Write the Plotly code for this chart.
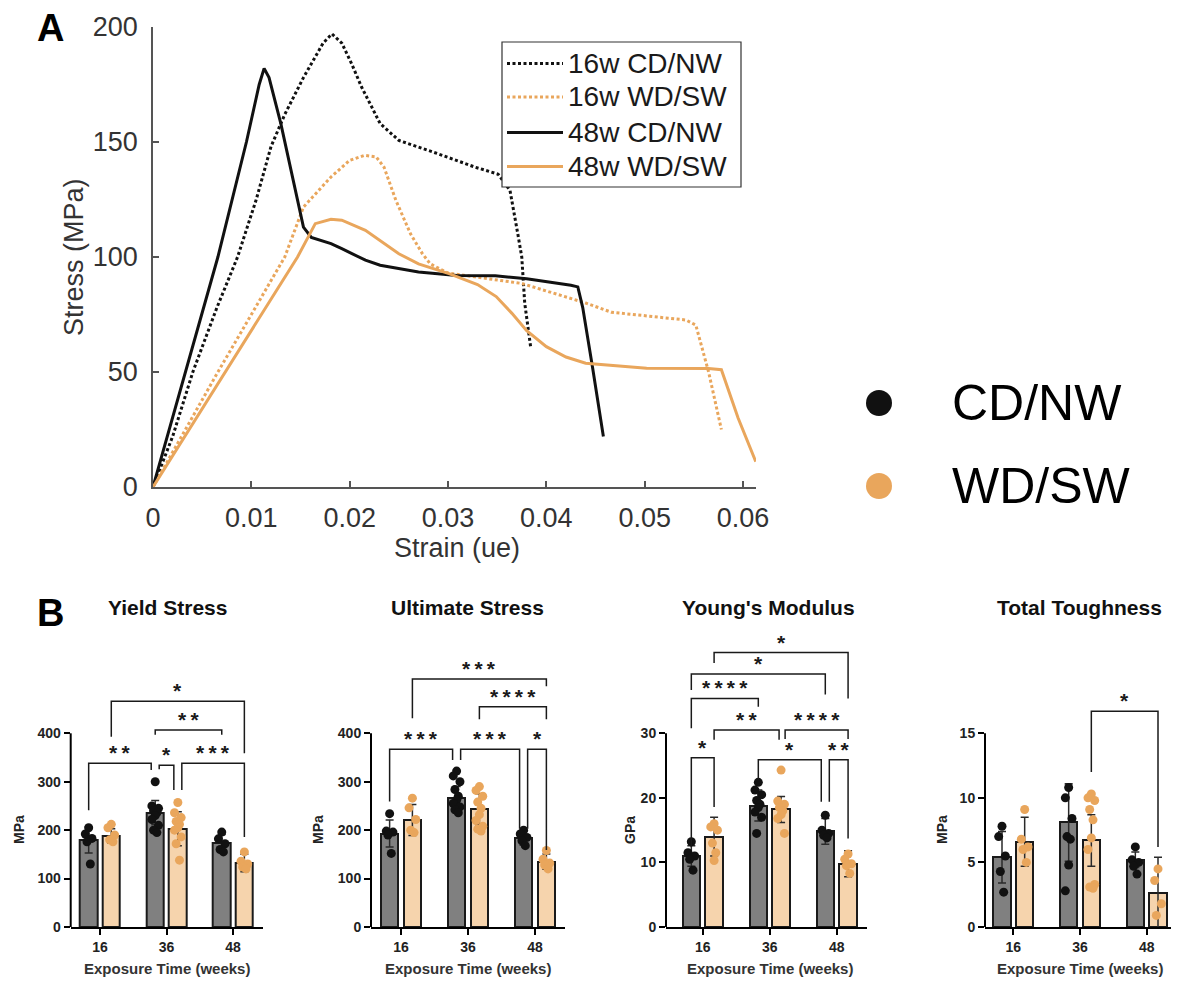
import plotly.graph_objects as go

W, H = 1179, 981
PAGE_OFF = 8  # browser body margin


def fx(px):
    return (px - PAGE_OFF) / W


def fy(py):
    return 1 - (py - PAGE_OFF) / H


# ---------------- Panel A : stress-strain curves ----------------
strain_16_cd = [0, 0.002, 0.00405, 0.0065, 0.0086, 0.0105, 0.0120, 0.0134, 0.0153, 0.0173, 0.0182,
                0.0192, 0.0202, 0.0212, 0.0231, 0.0250, 0.0289, 0.0328, 0.0351, 0.0363, 0.0371,
                0.0375, 0.0378, 0.0384]
stress_16_cd = [0, 22, 50, 78, 100, 125, 148, 162, 178, 193, 197, 193, 184, 174, 158, 150.7, 145,
                139, 136, 129, 110, 100, 80, 61]

strain_16_wd = [0, 0.0066, 0.0134, 0.0153, 0.0181, 0.0200, 0.0215, 0.0227, 0.0235, 0.0247, 0.0262,
                0.0274, 0.0282, 0.0300, 0.0375, 0.0440, 0.0466, 0.0542, 0.0552, 0.0565, 0.0578]
stress_16_wd = [0, 50, 100, 121.7, 134.8, 142, 144.2, 143.5, 139, 124.6, 110, 101.4, 97, 93, 88.5,
                80, 76, 72.6, 70.4, 50, 25]

strain_48_cd = [0, 0.0033, 0.0066, 0.0095, 0.0108, 0.0113, 0.0118, 0.0130, 0.0144, 0.0153, 0.0161,
                0.0181, 0.0192, 0.0216, 0.0231, 0.0270, 0.0309, 0.0348, 0.0380, 0.0405, 0.0425,
                0.0432, 0.0437, 0.0447, 0.0458]
stress_48_cd = [0, 50, 100, 150, 175, 182, 178, 158, 130, 113, 108.5, 105.8, 103.6, 98.6, 96.4,
                93.5, 92, 91.8, 90.5, 89, 87.7, 87, 78, 52, 22]

strain_48_wd = [0, 0.00735, 0.0147, 0.0165, 0.0181, 0.0192, 0.0216, 0.0250, 0.0270, 0.0301, 0.0330,
                0.0349, 0.0365, 0.0380, 0.0400, 0.0420, 0.0440, 0.0502, 0.0565, 0.0578, 0.0595, 0.0613]
stress_48_wd = [0, 50, 100, 114.5, 116.4, 116, 111.6, 101.4, 97, 92.8, 88, 82.8, 75.5, 68, 61,
                56.5, 53.8, 51.6, 51.5, 51, 30, 11]

strain_ticks = [0, 0.01, 0.02, 0.03, 0.04, 0.05, 0.06]
strain_tick_text = ["0", "0.01", "0.02", "0.03", "0.04", "0.05", "0.06"]
stress_ticks = [0, 50, 100, 150, 200]

# ---------------- Panel B : bar charts ----------------
weeks = ["16", "36", "48"]

yield_cd_mean = [180, 236, 174]
yield_cd_sd = [27, 25, 17]
yield_wd_mean = [188, 203, 132]
yield_wd_sd = [15, 35, 18]
yield_cd_pts = [[205, 192, 183, 176, 130],
                [300, 250, 245, 240, 236, 230, 222, 210, 200, 195],
                [196, 182, 172, 160, 155]]
yield_wd_pts = [[212, 205, 190, 180, 176],
                [257, 236, 226, 218, 212, 205, 200, 186, 172, 138],
                [155, 136, 130, 124, 120]]

ult_cd_mean = [193, 266, 183]
ult_cd_sd = [28, 24, 14]
ult_wd_mean = [221, 243, 135]
ult_wd_sd = [32, 32, 16]
ult_cd_pts = [[234, 198, 196, 190, 152],
              [322, 312, 300, 284, 270, 262, 255, 248, 242, 236],
              [200, 192, 185, 178, 168]]
ult_wd_pts = [[266, 246, 222, 200, 195],
              [290, 282, 270, 258, 245, 232, 220, 208, 202, 198],
              [158, 140, 132, 128, 120]]

ym_cd_mean = [11.0, 18.8, 14.8]
ym_cd_sd = [1.6, 2.4, 2.0]
ym_wd_mean = [14.0, 18.2, 9.8]
ym_wd_sd = [3.0, 2.0, 2.0]
ym_cd_pts = [[13.2, 11.5, 11.0, 10.5, 8.8],
             [22.4, 21.2, 20.5, 19.6, 19.0, 18.5, 17.8, 17.0, 14.5],
             [17.3, 15.0, 14.5, 14.2, 13.8]]
ym_wd_pts = [[16.0, 15.5, 15.0, 13.0, 11.5, 10.3],
             [24.3, 19.5, 19.0, 18.5, 18.0, 17.4, 16.8, 14.5],
             [11.3, 10.5, 9.8, 9.5, 8.3]]

tough_cd_mean = [5.4, 8.1, 5.2]
tough_cd_sd = [2.0, 3.0, 0.6]
tough_wd_mean = [6.6, 6.7, 2.6]
tough_wd_sd = [1.9, 2.0, 2.8]
tough_cd_pts = [[7.8, 7.0, 5.5, 4.3, 2.7],
                [10.8, 10.0, 8.4, 7.0, 6.8, 4.8, 2.8],
                [6.2, 5.2, 5.0, 4.7, 4.1]]
tough_wd_pts = [[9.1, 6.8, 6.2, 6.0, 5.0],
                [10.3, 10.0, 9.8, 9.1, 8.3, 6.9, 6.0, 3.3, 3.1, 3.0],
                [4.5, 3.6, 1.8, 0.9]]

# significance brackets: (left bar, left nudge, right bar, right nudge, top, left leg end, right leg end, label)
yield_sig = [("16C", 0, "36C", -1, 338, 241, 324, "**"),
             ("36C", 1, "36W", -1, 334, 326, 283, "*"),
             ("36W", 1, "48W", 0, 338, 283, 186, "***"),
             ("36C", 0, "48C", 0, 407, 397, 397, "**"),
             ("16W", 0, "48W", 0, 466, 393, 359, "*")]
ult_sig = [("16C", 0, "36C", -1, 367, 259, 345, "***"),
           ("36C", 1, "48C", -1, 367, 345, 203, "***"),
           ("48C", 1, "48W", 0, 367, 203, 159, "*"),
           ("36W", 0, "48W", 0, 455, 429, 429, "****"),
           ("16W", 0, "48W", 0, 512, 431, 497, "***")]
ym_sig = [("16C", 0, "16W", 0, 26.2, 12.4, 18.6, "*"),
          ("36C", 0, "48C", -1, 25.9, 22.8, 19.4, "*"),
          ("48C", 1, "48W", 0, 25.9, 19.4, 13.7, "**"),
          ("16W", 0, "36W", -0.5, 30.5, 29.0, 29.0, "**"),
          ("36W", 1, "48W", 0, 30.5, 29.1, 29.1, "****"),
          ("16C", 0, "36C", 0, 35.4, 30.8, 34.1, "****"),
          ("16C", 0, "48C", 0, 39.2, 36.7, 36.0, "*"),
          ("16W", 0, "48W", 0, 42.5, 40.9, 35.4, "*")]
tough_sig = [("36W", 0, "48W", 0, 16.7, 12.0, 6.2, "*")]

# ---------------- styles ----------------
BLACK = "#111111"
ORANGE = "#E9A65C"
GREY_BAR = "#808080"
PEACH_BAR = "#F6D4AD"
FONT = "Arial"
BAR_OFF = 0.17
BAR_W = 0.26
NUDGE = 0.06
DOT_SPREAD = [0, -0.05, 0.05, -0.025, 0.025]

fig = go.Figure()

# ---- Panel A traces
curve_specs = [
    ("16w CD/NW", strain_16_cd, stress_16_cd, BLACK, "3px,2.5px"),
    ("16w WD/SW", strain_16_wd, stress_16_wd, ORANGE, "3px,2.5px"),
    ("48w CD/NW", strain_48_cd, stress_48_cd, BLACK, "solid"),
    ("48w WD/SW", strain_48_wd, stress_48_wd, ORANGE, "solid"),
]
for name, xs, ys, col, dash in curve_specs:
    fig.add_trace(go.Scatter(x=xs, y=ys, mode="lines", name=name,
                             line=dict(color=col, width=3, dash=dash),
                             xaxis="x", yaxis="y", showlegend=False))

shapes = []
annotations = []

# legend box for panel A (drawn to match the reference box geometry)
shapes.append(dict(type="rect", xref="paper", yref="paper", x0=fx(502), x1=fx(741), y0=fy(187), y1=fy(42),
                   line=dict(color="#333", width=1.2), fillcolor="white", layer="above"))
for k, (name, xs, ys, col, dash) in enumerate(curve_specs):
    ry = [63.5, 97, 132.5, 166.5][k]
    shapes.append(dict(type="line", xref="paper", yref="paper", x0=fx(507), x1=fx(563), y0=fy(ry), y1=fy(ry),
                       line=dict(color=col, width=3, dash=dash), layer="above"))
    annotations.append(dict(x=fx(566), y=fy(ry), xref="paper", yref="paper", text=name, showarrow=False,
                            xanchor="left", yanchor="middle", font=dict(family=FONT, size=28, color="#1a1a1a")))

# ---- Panel B
panels = [
    dict(title="Yield Stress", unit="MPa", cd=yield_cd_mean, cds=yield_cd_sd, wd=yield_wd_mean,
         wds=yield_wd_sd, cdp=yield_cd_pts, wdp=yield_wd_pts, sig=yield_sig,
         ticks=[0, 100, 200, 300, 400], dom=(70.7, 263), xr=(-0.44, 2.45)),
    dict(title="Ultimate Stress", unit="MPa", cd=ult_cd_mean, cds=ult_cd_sd, wd=ult_wd_mean,
         wds=ult_wd_sd, cdp=ult_cd_pts, wdp=ult_wd_pts, sig=ult_sig,
         ticks=[0, 100, 200, 300, 400], dom=(371, 565), xr=(-0.448, 2.448)),
    dict(title="Young's Modulus", unit="GPa", cd=ym_cd_mean, cds=ym_cd_sd, wd=ym_wd_mean,
         wds=ym_wd_sd, cdp=ym_cd_pts, wdp=ym_wd_pts, sig=ym_sig,
         ticks=[0, 10, 20, 30], dom=(666, 866.7), xr=(-0.548, 2.448)),
    dict(title="Total Toughness", unit="MPa", cd=tough_cd_mean, cds=tough_cd_sd, wd=tough_wd_mean,
         wds=tough_wd_sd, cdp=tough_cd_pts, wdp=tough_wd_pts, sig=tough_sig,
         ticks=[0, 5, 10, 15], dom=(985, 1175), xr=(-0.425, 2.425)),
]
title_x = [167, 467, 768, 1079]
xtitle_x = [167, 468, 770, 1080]
ytitle_x = [19, 318, 630, 942]

Y0_PX, YTOP_TICK_PX, YTOP_PX = 927, 733.3, 640
range_factor = (Y0_PX - YTOP_PX) / (Y0_PX - YTOP_TICK_PX)


def bar_x(key, nudge=0):
    g = weeks.index(key[:2])
    return g + (-BAR_OFF if key[2] == "C" else BAR_OFF) + nudge * NUDGE


for i, p in enumerate(panels):
    n = i + 2
    xa, ya = f"x{n}", f"y{n}"
    xs_cd = [g - BAR_OFF for g in range(3)]
    xs_wd = [g + BAR_OFF for g in range(3)]
    for xs, mean, sd, fill in [(xs_cd, p["cd"], p["cds"], GREY_BAR), (xs_wd, p["wd"], p["wds"], PEACH_BAR)]:
        fig.add_trace(go.Bar(x=xs, y=mean, width=BAR_W,
                             marker=dict(color=fill, line=dict(color="#1a1a1a", width=2)),
                             error_y=dict(type="data", array=sd, visible=True, color="#2a2a2a",
                                          thickness=1.5, width=4),
                             xaxis=xa, yaxis=ya, showlegend=False))
    for xs, pts, col in [(xs_cd, p["cdp"], BLACK), (xs_wd, p["wdp"], ORANGE)]:
        px_list, py_list = [], []
        for g, vals in enumerate(pts):
            for j, v in enumerate(vals):
                px_list.append(xs[g] + DOT_SPREAD[j % len(DOT_SPREAD)])
                py_list.append(v)
        fig.add_trace(go.Scatter(x=px_list, y=py_list, mode="markers",
                                 marker=dict(color=col, size=9, line=dict(width=0)),
                                 xaxis=xa, yaxis=ya, showlegend=False, cliponaxis=False))
    tick_max = p["ticks"][-1]
    fig.update_layout(**{
        f"xaxis{n}": dict(domain=[fx(p["dom"][0]), fx(p["dom"][1])], range=list(p["xr"]), anchor=ya,
                          tickmode="array", tickvals=[0, 1, 2], ticktext=weeks, ticks="outside",
                          ticklen=6, tickwidth=2, tickcolor="black", showline=True, linewidth=2,
                          linecolor="black", showgrid=False, zeroline=False, automargin=False,
                          tickfont=dict(family=FONT, size=14, color="#222", weight="bold")),
        f"yaxis{n}": dict(domain=[fy(Y0_PX), fy(YTOP_PX)], range=[0, tick_max * range_factor], anchor=xa,
                          tickmode="array", tickvals=p["ticks"], ticks="outside", ticklen=6, tickwidth=2,
                          tickcolor="black", showline=False, showgrid=False, zeroline=False,
                          automargin=False,
                          tickfont=dict(family=FONT, size=14, color="#222", weight="bold")),
    })
    shapes.append(dict(type="line", xref=f"{xa} domain", yref=ya, x0=0, x1=0, y0=0, y1=tick_max,
                       line=dict(color="black", width=2)))
    for lb, ln, rb, rn, top, lbot, rbot, lab in p["sig"]:
        x0 = bar_x(lb, ln)
        x1 = bar_x(rb, rn)
        shapes.append(dict(type="path", xref=xa, yref=ya,
                           path=f"M {x0},{lbot} L {x0},{top} L {x1},{top} L {x1},{rbot}",
                           line=dict(color="#1a1a1a", width=1.5)))
        annotations.append(dict(x=(x0 + x1) / 2, y=top, xref=xa, yref=ya, text="\u2009".join(lab),
                                showarrow=False, xanchor="center", yanchor="bottom", yshift=-3,
                                font=dict(family=FONT, size=21, color="#1a1a1a", weight="bold")))
    annotations.append(dict(x=fx(title_x[i]), y=fy(607), xref="paper", yref="paper",
                            text=p["title"], showarrow=False, xanchor="center", yanchor="middle",
                            font=dict(family=FONT, size=21, color="#111", weight="bold")))
    annotations.append(dict(x=fx(xtitle_x[i]), y=fy(968), xref="paper", yref="paper",
                            text="Exposure Time (weeks)", showarrow=False, xanchor="center", yanchor="middle",
                            font=dict(family=FONT, size=15, color="#333", weight="bold")))
    annotations.append(dict(x=fx(ytitle_x[i]), y=fy(830), xref="paper", yref="paper",
                            text=p["unit"], showarrow=False, textangle=-90, xanchor="center",
                            yanchor="middle", font=dict(family=FONT, size=14, color="#222", weight="bold")))

# ---- Panel A axes
fig.update_layout(
    xaxis=dict(domain=[fx(153), fx(756)], range=[0, 0.06132], anchor="y", tickmode="array",
               tickvals=strain_ticks, ticktext=strain_tick_text, ticks="inside", ticklen=6, tickwidth=1.5,
               tickcolor="#555", showline=True, linewidth=1.5, linecolor="#555", showgrid=False,
               zeroline=False, ticklabelstandoff=6, automargin=False,
               tickfont=dict(family=FONT, size=27, color="#333")),
    yaxis=dict(domain=[fy(487), fy(27)], range=[0, 200], anchor="x", tickmode="array",
               tickvals=stress_ticks, ticks="inside", ticklen=6, tickwidth=1.5, tickcolor="#555",
               showline=True, linewidth=1.5, linecolor="#555", showgrid=False, zeroline=False,
               ticklabelstandoff=8, automargin=False, tickfont=dict(family=FONT, size=27, color="#333")),
)

annotations += [
    dict(x=fx(457), y=fy(548), xref="paper", yref="paper", text="Strain (ue)", showarrow=False,
         xanchor="center", yanchor="middle", font=dict(family=FONT, size=27, color="#333")),
    dict(x=fx(74), y=fy(257), xref="paper", yref="paper", text="Stress (MPa)", showarrow=False,
         textangle=-90, xanchor="center", yanchor="middle", font=dict(family=FONT, size=27, color="#333")),
    dict(x=fx(50), y=fy(28), xref="paper", yref="paper", text="A", showarrow=False,
         xanchor="center", yanchor="middle", font=dict(family=FONT, size=38, color="black", weight="bold")),
    dict(x=fx(50), y=fy(613), xref="paper", yref="paper", text="B", showarrow=False,
         xanchor="center", yanchor="middle", font=dict(family=FONT, size=38, color="black", weight="bold")),
    dict(x=fx(950), y=fy(403), xref="paper", yref="paper", text="CD/NW", showarrow=False,
         xanchor="left", yanchor="middle", font=dict(family=FONT, size=50, color="black")),
    dict(x=fx(950), y=fy(486), xref="paper", yref="paper", text="WD/SW", showarrow=False,
         xanchor="left", yanchor="middle", font=dict(family=FONT, size=50, color="black")),
]

for cy, col in [(403, BLACK), (486, ORANGE)]:
    shapes.append(dict(type="circle", xref="paper", yref="paper", x0=fx(879 - 13), x1=fx(879 + 13),
                       y0=fy(cy + 13), y1=fy(cy - 13), fillcolor=col, line=dict(width=0)))

fig.update_layout(
    width=W, height=H, autosize=False, margin=dict(l=0, r=0, t=0, b=0, pad=0),
    paper_bgcolor="white", plot_bgcolor="white", bargap=0, showlegend=False,
    shapes=shapes, annotations=annotations,
)

fig.write_html("out.html")
